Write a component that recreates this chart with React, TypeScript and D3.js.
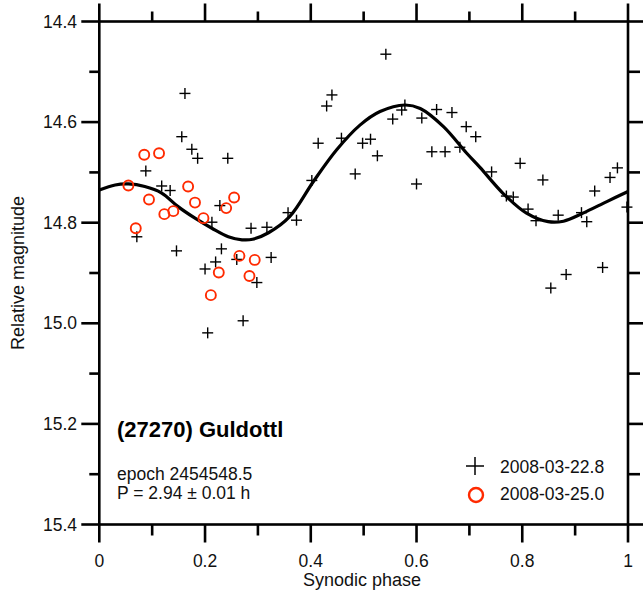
import React from "react";
import * as d3 from "d3";

// ---- data ----
const xTicksMajor = [0, 0.2, 0.4, 0.6, 0.8, 1];
const xTicksMinor = [0.1, 0.3, 0.5, 0.7, 0.9];
const xTickLabels = ["0", "0.2", "0.4", "0.6", "0.8", "1"];
const yTicksMajor = [14.4, 14.6, 14.8, 15.0, 15.2, 15.4];
const yTicksMinor = [14.5, 14.7, 14.9, 15.1, 15.3];
const yTickLabels = ["14.4", "14.6", "14.8", "15.0", "15.2", "15.4"];

// session 2008-03-22.8 (crosses): [phase, magnitude]
const session1: [number, number][] = [
  [0.162, 14.543], [0.156, 14.629], [0.175, 14.654], [0.186, 14.672], [0.243, 14.672],
  [0.088, 14.697], [0.118, 14.727], [0.134, 14.736], [0.228, 14.766], [0.213, 14.799],
  [0.287, 14.811], [0.317, 14.809], [0.071, 14.828], [0.146, 14.856], [0.231, 14.852],
  [0.220, 14.878], [0.260, 14.873], [0.325, 14.869], [0.200, 14.892], [0.298, 14.919],
  [0.272, 14.995], [0.205, 15.019],
  [0.542, 14.465], [0.440, 14.546], [0.430, 14.568], [0.578, 14.566], [0.572, 14.576],
  [0.638, 14.575], [0.667, 14.581], [0.555, 14.594], [0.610, 14.592], [0.694, 14.609],
  [0.414, 14.642], [0.458, 14.632], [0.498, 14.642], [0.513, 14.634], [0.526, 14.667],
  [0.629, 14.659], [0.654, 14.659], [0.682, 14.650], [0.402, 14.716], [0.484, 14.703],
  [0.600, 14.723], [0.357, 14.780], [0.373, 14.795],
  [0.712, 14.629], [0.742, 14.699], [0.796, 14.682], [0.839, 14.715], [0.770, 14.747],
  [0.783, 14.749], [0.811, 14.773], [0.826, 14.796], [0.868, 14.785], [0.912, 14.780],
  [0.922, 14.798], [0.937, 14.737], [0.966, 14.710], [0.980, 14.691], [0.998, 14.769],
  [0.854, 14.930], [0.883, 14.903], [0.952, 14.889],
];

// session 2008-03-25.0 (circles)
const session2: [number, number][] = [
  [0.055, 14.726], [0.069, 14.811], [0.085, 14.665], [0.094, 14.754], [0.113, 14.662],
  [0.123, 14.783], [0.140, 14.777], [0.168, 14.728], [0.181, 14.760], [0.197, 14.791],
  [0.211, 14.944], [0.226, 14.899], [0.240, 14.771], [0.255, 14.750], [0.265, 14.866],
  [0.284, 14.906], [0.294, 14.874],
];

// fitted lightcurve
const fitCurve: [number, number][] = [
  [0, 14.735], [0.03, 14.725], [0.055, 14.723], [0.086, 14.728], [0.118, 14.741],
  [0.149, 14.768], [0.181, 14.791], [0.213, 14.811], [0.244, 14.828], [0.27, 14.834],
  [0.29, 14.833], [0.32, 14.82], [0.36, 14.788], [0.405, 14.718], [0.449, 14.655],
  [0.493, 14.606], [0.531, 14.579], [0.578, 14.566], [0.607, 14.573], [0.651, 14.609],
  [0.695, 14.662], [0.72, 14.69], [0.764, 14.742], [0.808, 14.781], [0.849, 14.798],
  [0.878, 14.797], [0.915, 14.781], [0.96, 14.758], [1.0, 14.738],
];

const legendLabels = ["2008-03-22.8", "2008-03-25.0"];
const titleText = "(27270) Guldottl";
const infoLines = ["epoch 2454548.5", "P = 2.94 \u00b1 0.01 h"];

// ---- layout ----
const W = 643;
const H = 592;
const left = 99.3;
const right = 628;
const top = 21.5;
const bottom = 524.5;
const MAJ = 18;
const MIN = 10;
const FONT = "'Liberation Sans', Arial, Helvetica, sans-serif";
const RED = "#ff2a00";

export default function App() {
  React.useEffect(() => {
    document.body.style.margin = "0";
  }, []);

  const x = d3.scaleLinear().domain([0, 1]).range([left, right]);
  const y = d3.scaleLinear().domain([14.4, 15.4]).range([top, bottom]);

  const line = d3
    .line<[number, number]>()
    .x((d) => x(d[0]))
    .y((d) => y(d[1]))
    .curve(d3.curveCatmullRom.alpha(0.5));

  const axisStroke = { stroke: "#000", strokeWidth: 2.6 };
  const cs = 5.5;

  return (
    <svg
      width={W}
      height={H}
      style={{ position: "absolute", left: 0, top: 0, display: "block", background: "#fff" }}
      fontFamily={FONT}
    >
      <rect x={0} y={0} width={W} height={H} fill="#fff" />

      {/* fitted curve */}
      <path d={line(fitCurve) || ""} fill="none" stroke="#000" strokeWidth={3.2} />

      {/* crosses */}
      {session1.map((d, i) => (
        <g key={"c" + i} stroke="#000" strokeWidth={1.4}>
          <line x1={x(d[0]) - cs} x2={x(d[0]) + cs} y1={y(d[1])} y2={y(d[1])} />
          <line x1={x(d[0])} x2={x(d[0])} y1={y(d[1]) - cs} y2={y(d[1]) + cs} />
        </g>
      ))}

      {/* circles */}
      {session2.map((d, i) => (
        <circle key={"o" + i} cx={x(d[0])} cy={y(d[1])} r={5} fill="none" stroke={RED} strokeWidth={1.9} />
      ))}

      {/* frame */}
      <rect x={left} y={top} width={right - left} height={bottom - top} fill="none" {...axisStroke} />

      {/* x ticks bottom & top */}
      {xTicksMajor.map((t, i) => (
        <g key={"xm" + i} {...axisStroke}>
          <line x1={x(t)} x2={x(t)} y1={bottom} y2={bottom + MAJ} />
          <line x1={x(t)} x2={x(t)} y1={top} y2={top - MAJ} />
        </g>
      ))}
      {xTicksMinor.map((t, i) => (
        <g key={"xn" + i} {...axisStroke}>
          <line x1={x(t)} x2={x(t)} y1={bottom} y2={bottom + MIN + 1} />
          <line x1={x(t)} x2={x(t)} y1={top} y2={top - MIN} />
        </g>
      ))}
      {/* y ticks left & right */}
      {yTicksMajor.map((t, i) => (
        <g key={"ym" + i} {...axisStroke}>
          <line x1={left} x2={left - MAJ} y1={y(t)} y2={y(t)} />
          <line x1={right} x2={right + MAJ} y1={y(t)} y2={y(t)} />
        </g>
      ))}
      {yTicksMinor.map((t, i) => (
        <g key={"yn" + i} {...axisStroke}>
          <line x1={left} x2={left - MIN} y1={y(t)} y2={y(t)} />
          <line x1={right} x2={right + MIN + 2} y1={y(t)} y2={y(t)} />
        </g>
      ))}

      {/* tick labels */}
      {xTicksMajor.map((t, i) => (
        <text key={"xl" + i} x={x(t)} y={566.5} fontSize={17.5} textAnchor="middle" fill="#111">
          {xTickLabels[i]}
        </text>
      ))}
      {yTicksMajor.map((t, i) => (
        <text key={"yl" + i} x={77} y={y(t) + 6} fontSize={17.5} textAnchor="end" fill="#111">
          {yTickLabels[i]}
        </text>
      ))}

      {/* axis titles */}
      <text x={362} y={586} fontSize={18} textAnchor="middle" fill="#111">
        Synodic phase
      </text>
      <text
        transform={`translate(24, ${(top + bottom) / 2}) rotate(-90)`}
        fontSize={18}
        textAnchor="middle"
        fill="#111"
      >
        Relative magnitude
      </text>

      {/* title & info */}
      <text x={117} y={436.5} fontSize={22} fontWeight="bold" fill="#000">
        {titleText}
      </text>
      {infoLines.map((s, i) => (
        <text key={"inf" + i} x={117} y={480 + i * 18.5} fontSize={17.5} fill="#111">
          {s}
        </text>
      ))}

      {/* legend */}
      <g stroke="#000" strokeWidth={1.5}>
        <line x1={475 - 9} x2={475 + 9} y1={466} y2={466} />
        <line x1={475} x2={475} y1={466 - 9} y2={466 + 9} />
      </g>
      <circle cx={476} cy={495} r={7} fill="none" stroke={RED} strokeWidth={2.4} />
      {legendLabels.map((s, i) => (
        <text key={"lg" + i} x={500} y={472.5 + i * 27.5} fontSize={17.5} fill="#111">
          {s}
        </text>
      ))}
    </svg>
  );
}
